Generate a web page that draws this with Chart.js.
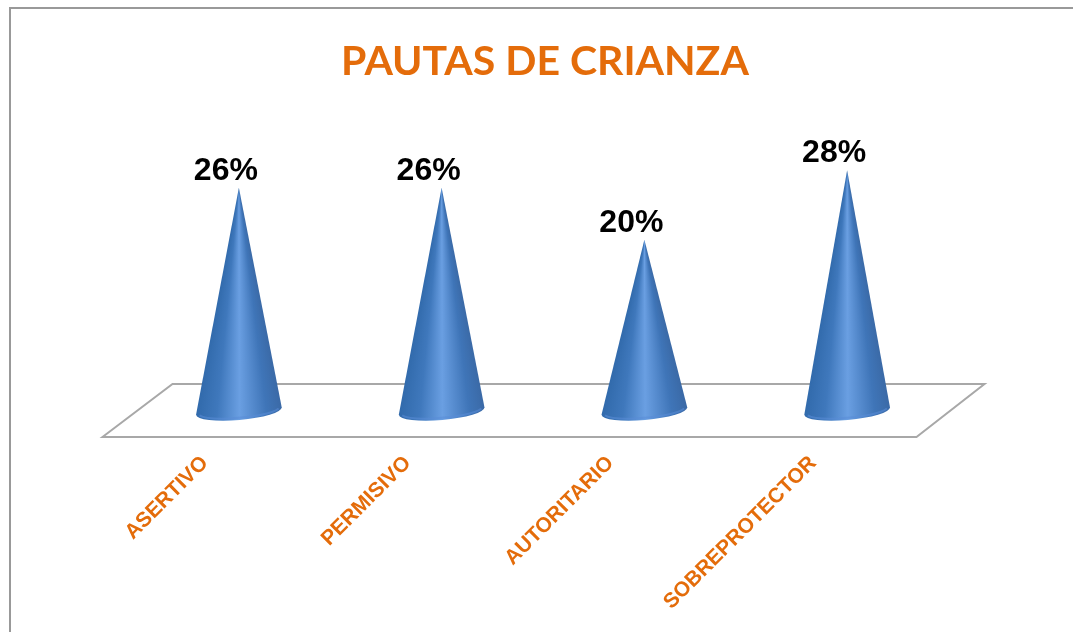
<!DOCTYPE html>
<html>
<head>
<meta charset="utf-8">
<script src="https://cdn.jsdelivr.net/npm/chart.js@4/dist/chart.umd.min.js"></script>
<style>
  html, body { margin: 0; padding: 0; background: #fff; overflow: hidden; }
  #frame { position: absolute; left: 9px; top: 7px; width: 1070px; height: 640px; border: 2px solid #999; border-right: none; border-bottom: none; }
  #myChart { position: absolute; left: 0; top: 0; }
</style>
</head>
<body>
<div id="frame"></div>
<canvas id="myChart" width="1073" height="632"></canvas>
<script>
//Chart data
const titleText = "PAUTAS DE CRIANZA";
const categories = ["ASERTIVO", "PERMISIVO", "AUTORITARIO", "SOBREPROTECTOR"];
const percentages = [26, 26, 20, 28];

const orange = "#E46C0A";

//Floor under the cones, plus the shaded cones drawn on the bar positions
const conePlugin = {
    id: "cones",
    afterLayout(chart) {
        //Title sits a little right of the plot centre
        chart.titleBlock.left += 4;
    },
    beforeDatasetsDraw(chart) {
        const ctx = chart.ctx;
        const a = chart.chartArea;
        ctx.save();
        ctx.strokeStyle = "#a8a8a8";
        ctx.lineWidth = 2;
        ctx.lineJoin = "miter";
        ctx.beginPath();
        ctx.moveTo(a.left - 35, a.bottom + 24);
        ctx.lineTo(a.left + 35, a.bottom - 29);
        ctx.lineTo(a.right + 36, a.bottom - 29);
        ctx.lineTo(a.right - 32, a.bottom + 24);
        ctx.closePath();
        ctx.stroke();
        ctx.restore();
    },
    afterDatasetsDraw(chart) {
        const ctx = chart.ctx;
        chart.getDatasetMeta(0).data.forEach(function(bar, i) {
            const rx = 43, ry = 9, tilt = -5 * Math.PI / 180;
            const cx = bar.x, cy = bar.base - 2;
            const tipX = bar.x, tipY = bar.y;
            const cos = Math.cos(tilt), sin = Math.sin(tilt);
            const leftX = cx - rx * cos, leftY = cy - rx * sin;
            const rightX = cx + rx * cos, rightY = cy + rx * sin;

            //Conic gradient from the tip so the shading narrows to the point
            const angR = Math.atan2(rightY - tipY, rightX - tipX);
            const angL = Math.atan2(leftY - tipY, leftX - tipX);
            const start = angR - 0.01;
            const span = (angL - angR + 0.02) / (2 * Math.PI);
            const grad = ctx.createConicGradient(start, tipX, tipY);
            const stops = [[0, "#3a68a4"], [0.2, "#3f75b8"], [0.5, "#6a9fe2"], [0.75, "#3f78bc"], [1, "#3069aa"]];
            stops.forEach(function(s) { grad.addColorStop(s[0] * span, s[1]); });
            grad.addColorStop(Math.min(span + 0.001, 1), "#3069aa");

            ctx.save();
            ctx.filter = "blur(0.6px)";
            ctx.beginPath();
            ctx.moveTo(tipX, tipY);
            ctx.lineTo(rightX, rightY);
            ctx.ellipse(cx, cy, rx, ry, tilt, 0, Math.PI);
            ctx.closePath();
            ctx.fillStyle = grad;
            ctx.fill();

            //Lighter rim along the front of the base
            ctx.beginPath();
            ctx.ellipse(cx, cy - 1, rx - 2, ry - 1, tilt, 0.25, Math.PI - 0.25);
            ctx.strokeStyle = "rgba(90,140,215,0.55)";
            ctx.lineWidth = 2;
            ctx.stroke();
            ctx.restore();
        });

        //Percent labels over the tips
        ctx.save();
        ctx.fillStyle = "#000";
        ctx.font = "bold 32px 'Liberation Sans'";
        ctx.textAlign = "center";
        ctx.textBaseline = "alphabetic";
        chart.getDatasetMeta(0).data.forEach(function(bar, i) {
            ctx.fillText(percentages[i] + "%", bar.x - 13, bar.y - 8);
        });
        ctx.restore();
    }
};

const config = {
    type: "bar",
    data: {
        labels: categories,
        datasets: [{
            data: percentages,
            backgroundColor: "transparent",
            borderWidth: 0
        }]
    },
    options: {
        responsive: false,
        animation: false,
        layout: { padding: { left: 137.5, right: 124.5, top: 37 } },
        plugins: {
            legend: { display: false },
            tooltip: { enabled: false },
            title: {
                display: true,
                text: titleText,
                color: orange,
                font: { family: "Lato", weight: "bold", size: 41 },
                padding: { top: 0, bottom: 66.8 }
            }
        },
        scales: {
            x: {
                //Fixed height keeps the baseline where the cones stand
                afterFit(scale) { scale.height = 219; },
                border: { display: false },
                grid: { display: false },
                ticks: {
                    color: orange,
                    font: { family: "Liberation Sans", weight: "bold", size: 21 },
                    minRotation: 45,
                    maxRotation: 45,
                    labelOffset: -34,
                    padding: 30
                }
            },
            y: {
                display: false,
                min: 0,
                max: 30
            }
        }
    },
    plugins: [conePlugin]
};

const canvas = document.getElementById("myChart").getContext("2d");
const myChart = new Chart(canvas, config);
</script>
</body>
</html>
